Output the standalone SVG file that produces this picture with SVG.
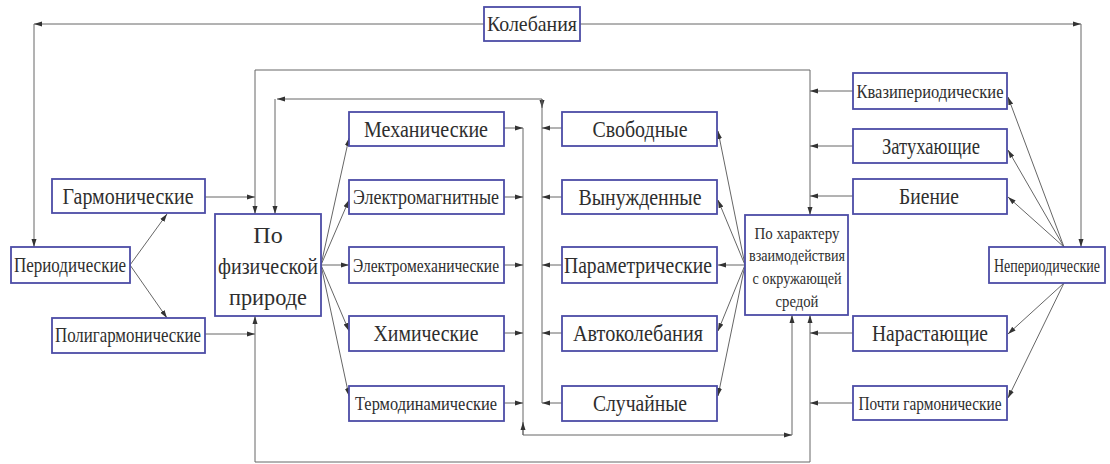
<svg xmlns="http://www.w3.org/2000/svg" width="1110" height="464" viewBox="0 0 1110 464">
<style>
.box{fill:#fff;stroke:#4c4ca6;stroke-width:1.8}
.t{font-family:"Liberation Serif","DejaVu Serif",serif;fill:#2e2e2e;text-anchor:middle}
.l{stroke:#666;stroke-width:1;fill:none}
.a{stroke:#666;stroke-width:1;fill:none;marker-end:url(#ah)}
</style>
<defs>
<marker id="ah" markerUnits="userSpaceOnUse" markerWidth="9" markerHeight="6" refX="8" refY="3" orient="auto">
<path d="M0,0.5 L8,3 L0,5.5 z" fill="#333"/>
</marker>
</defs>
<rect width="1110" height="464" fill="#fff"/>
<g id="connectors">
<line class="a" x1="484" y1="24" x2="34" y2="24"/>
<line class="a" x1="34" y1="24" x2="34" y2="247"/>
<line class="a" x1="580" y1="24" x2="1081" y2="24"/>
<line class="a" x1="1081" y1="24" x2="1081" y2="247"/>
<line class="a" x1="130" y1="265" x2="167" y2="214"/>
<line class="a" x1="130" y1="265" x2="167" y2="318"/>
<line class="a" x1="205" y1="197" x2="255" y2="197"/>
<line class="a" x1="205" y1="334" x2="255" y2="334"/>
<line class="l" x1="255" y1="70" x2="810" y2="70"/>
<line class="a" x1="255" y1="70" x2="255" y2="214"/>
<line class="a" x1="255" y1="462" x2="255" y2="316"/>
<line class="l" x1="255" y1="462" x2="810" y2="462"/>
<line class="a" x1="810" y1="70" x2="810" y2="215"/>
<line class="a" x1="810" y1="462" x2="810" y2="315"/>
<line class="a" x1="542" y1="99" x2="277" y2="99"/>
<line class="a" x1="275" y1="99" x2="275" y2="214"/>
<line class="a" x1="542" y1="99" x2="542" y2="108"/>
<line class="l" x1="542" y1="99" x2="542" y2="403"/>
<line class="l" x1="523" y1="128" x2="523" y2="435"/>
<line class="a" x1="523" y1="435" x2="523" y2="422"/>
<line class="a" x1="523" y1="435" x2="792" y2="435"/>
<line class="a" x1="792" y1="435" x2="792" y2="315"/>
<line class="a" x1="504" y1="128" x2="523" y2="128"/>
<line class="a" x1="504" y1="197" x2="523" y2="197"/>
<line class="a" x1="504" y1="265" x2="523" y2="265"/>
<line class="a" x1="504" y1="333" x2="523" y2="333"/>
<line class="a" x1="504" y1="403" x2="523" y2="403"/>
<line class="a" x1="562" y1="128" x2="542" y2="128"/>
<line class="a" x1="562" y1="197" x2="542" y2="197"/>
<line class="a" x1="562" y1="265" x2="542" y2="265"/>
<line class="a" x1="562" y1="333" x2="542" y2="333"/>
<line class="a" x1="562" y1="403" x2="542" y2="403"/>
<line class="a" x1="321" y1="265" x2="349" y2="138"/>
<line class="a" x1="321" y1="265" x2="349" y2="200"/>
<line class="a" x1="321" y1="265" x2="349" y2="265"/>
<line class="a" x1="321" y1="265" x2="349" y2="331"/>
<line class="a" x1="321" y1="265" x2="349" y2="396"/>
<line class="a" x1="745" y1="265" x2="718" y2="131"/>
<line class="a" x1="745" y1="265" x2="718" y2="200"/>
<line class="a" x1="745" y1="265" x2="718" y2="265"/>
<line class="a" x1="745" y1="265" x2="718" y2="331"/>
<line class="a" x1="745" y1="265" x2="718" y2="396"/>
<line class="a" x1="853" y1="91" x2="810" y2="91"/>
<line class="a" x1="853" y1="146" x2="810" y2="146"/>
<line class="a" x1="853" y1="196" x2="810" y2="196"/>
<line class="a" x1="853" y1="333" x2="810" y2="333"/>
<line class="a" x1="853" y1="403" x2="810" y2="403"/>
<line class="a" x1="1064" y1="247" x2="1008" y2="97"/>
<line class="a" x1="1064" y1="247" x2="1008" y2="150"/>
<line class="a" x1="1064" y1="247" x2="1008" y2="197"/>
<line class="a" x1="1064" y1="283" x2="1008" y2="334"/>
<line class="a" x1="1064" y1="283" x2="1008" y2="398"/>
</g>
<g id="kolebaniya"><rect class="box" x="484" y="7" width="96" height="34"/><text class="t" x="532" y="31" font-size="22" textLength="90" lengthAdjust="spacingAndGlyphs">Колебания</text></g>
<g id="periodicheskie"><rect class="box" x="11" y="247" width="119" height="36"/><text class="t" x="70" y="272" font-size="20" textLength="112" lengthAdjust="spacingAndGlyphs">Периодические</text></g>
<g id="garmonicheskie"><rect class="box" x="52" y="179" width="153" height="34"/><text class="t" x="128" y="204" font-size="24" textLength="131" lengthAdjust="spacingAndGlyphs">Гармонические</text></g>
<g id="poligarmonicheskie"><rect class="box" x="52" y="318" width="153" height="35"/><text class="t" x="128" y="342" font-size="21" textLength="146" lengthAdjust="spacingAndGlyphs">Полигармонические</text></g>
<g id="po-fizicheskoy"><rect class="box" x="215" y="214" width="106" height="102"/>
<text class="t" x="268" y="243" font-size="24">По</text>
<text class="t" x="268" y="274" font-size="24" textLength="100" lengthAdjust="spacingAndGlyphs">физической</text>
<text class="t" x="268" y="305" font-size="24" textLength="78" lengthAdjust="spacingAndGlyphs">природе</text></g>
<g id="mekhanicheskie"><rect class="box" x="349" y="112" width="155" height="34"/><text class="t" x="426" y="137" font-size="24" textLength="124" lengthAdjust="spacingAndGlyphs">Механические</text></g>
<g id="elektromagnitnye"><rect class="box" x="349" y="180" width="155" height="34"/><text class="t" x="426" y="204" font-size="21" textLength="146" lengthAdjust="spacingAndGlyphs">Электромагнитные</text></g>
<g id="elektromekhanicheskie"><rect class="box" x="349" y="247" width="155" height="36"/><text class="t" x="426" y="272" font-size="19" textLength="146" lengthAdjust="spacingAndGlyphs">Электромеханические</text></g>
<g id="khimicheskie"><rect class="box" x="349" y="316" width="155" height="35"/><text class="t" x="426" y="341" font-size="24" textLength="105" lengthAdjust="spacingAndGlyphs">Химические</text></g>
<g id="termodinamicheskie"><rect class="box" x="349" y="386" width="155" height="35"/><text class="t" x="426" y="410" font-size="19" textLength="142" lengthAdjust="spacingAndGlyphs">Термодинамические</text></g>
<g id="svobodnye"><rect class="box" x="562" y="112" width="155" height="34"/><text class="t" x="640" y="137" font-size="24" textLength="95" lengthAdjust="spacingAndGlyphs">Свободные</text></g>
<g id="vynuzhdennye"><rect class="box" x="562" y="180" width="155" height="34"/><text class="t" x="640" y="205" font-size="24" textLength="123" lengthAdjust="spacingAndGlyphs">Вынужденные</text></g>
<g id="parametricheskie"><rect class="box" x="562" y="247" width="155" height="36"/><text class="t" x="638" y="273" font-size="24" textLength="148" lengthAdjust="spacingAndGlyphs">Параметрические</text></g>
<g id="avtokolebaniya"><rect class="box" x="562" y="316" width="155" height="35"/><text class="t" x="638" y="341" font-size="24" textLength="130" lengthAdjust="spacingAndGlyphs">Автоколебания</text></g>
<g id="sluchaynye"><rect class="box" x="562" y="386" width="155" height="35"/><text class="t" x="640" y="411" font-size="24" textLength="94" lengthAdjust="spacingAndGlyphs">Случайные</text></g>
<g id="po-kharakteru"><rect class="box" x="745" y="215" width="103" height="100"/>
<text class="t" x="797" y="239" font-size="17" textLength="85" lengthAdjust="spacingAndGlyphs">По характеру</text>
<text class="t" x="797" y="261" font-size="17" textLength="96" lengthAdjust="spacingAndGlyphs">взаимодействия</text>
<text class="t" x="797" y="284" font-size="17" textLength="89" lengthAdjust="spacingAndGlyphs">с окружающей</text>
<text class="t" x="797" y="307" font-size="17" textLength="43" lengthAdjust="spacingAndGlyphs">средой</text></g>
<g id="kvaziperiodicheskie"><rect class="box" x="853" y="73" width="154" height="36"/><text class="t" x="930" y="98" font-size="19" textLength="147" lengthAdjust="spacingAndGlyphs">Квазипериодические</text></g>
<g id="zatukhayushchie"><rect class="box" x="853" y="129" width="154" height="34"/><text class="t" x="931" y="154" font-size="24" textLength="98" lengthAdjust="spacingAndGlyphs">Затухающие</text></g>
<g id="bienie"><rect class="box" x="853" y="179" width="154" height="35"/><text class="t" x="929" y="204" font-size="24" textLength="60" lengthAdjust="spacingAndGlyphs">Биение</text></g>
<g id="neperiodicheskie"><rect class="box" x="989" y="247" width="116" height="36"/><text class="t" x="1047" y="272" font-size="19" textLength="106" lengthAdjust="spacingAndGlyphs">Непериодические</text></g>
<g id="narastayushchie"><rect class="box" x="853" y="316" width="154" height="35"/><text class="t" x="930" y="341" font-size="24" textLength="116" lengthAdjust="spacingAndGlyphs">Нарастающие</text></g>
<g id="pochti-garmonicheskie"><rect class="box" x="853" y="386" width="154" height="34"/><text class="t" x="930" y="410" font-size="19" textLength="143" lengthAdjust="spacingAndGlyphs">Почти гармонические</text></g>
</svg>
